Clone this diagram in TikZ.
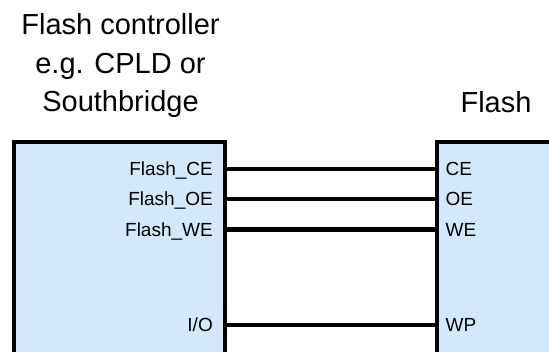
\documentclass[tikz,border=0pt]{standalone}
\usepackage{fontspec}
\setmainfont{Liberation Sans}
\definecolor{chipfill}{RGB}{212,232,252}
\begin{document}
\begin{tikzpicture}[x=1bp,y=-1bp,
  chip/.style={draw,line width=4.5bp,fill=chipfill,inner sep=0pt,outer sep=0pt,anchor=north west},
  title/.style={align=center,inner sep=0pt,anchor=north,font=\fontsize{29bp}{38.5bp}\selectfont},
  pin/.style={inner sep=0pt,text height=13.4bp,text depth=0pt,font=\fontsize{19bp}{22bp}\selectfont},
  wire/.style={line width=4.5bp}]
\useasboundingbox (0,0) rectangle (549,351);
\clip (0,0) rectangle (549,351);
% blocks
\node[chip,minimum width=211bp,minimum height=260bp] (ctrl) at (14,142) {};
\node[chip,minimum width=220bp,minimum height=260bp] (flash) at (437,142) {};
\node[title] (ctrltitle) at (120.5,13.4) {Flash controller\\e.g. CPLD or\\Southbridge};
\node[title] (flashtitle) at (496,91.6) {Flash};
% pins
\node[pin,anchor=east] (lce) at (213,169) {Flash\_CE};
\node[pin,anchor=east] (loe) at (213,199) {Flash\_OE};
\node[pin,anchor=east] (lwe) at (213,229.5) {Flash\_WE};
\node[pin,anchor=east] (lio) at (213,325) {I/O};
\node[pin,anchor=west] (rce) at (445.5,169) {CE};
\node[pin,anchor=west] (roe) at (445.5,199) {OE};
\node[pin,anchor=west] (rwe) at (445.5,229.5) {WE};
\node[pin,anchor=west] (rwp) at (445.5,325) {WP};
% wires
\draw[wire] (lce.east -| ctrl.east)--(rce.west -| flash.west);
\draw[wire] (loe.east -| ctrl.east)--(roe.west -| flash.west);
\draw[wire] (lwe.east -| ctrl.east)--(rwe.west -| flash.west);
\draw[wire] (lio.east -| ctrl.east)--(rwp.west -| flash.west);
\end{tikzpicture}
\end{document}
